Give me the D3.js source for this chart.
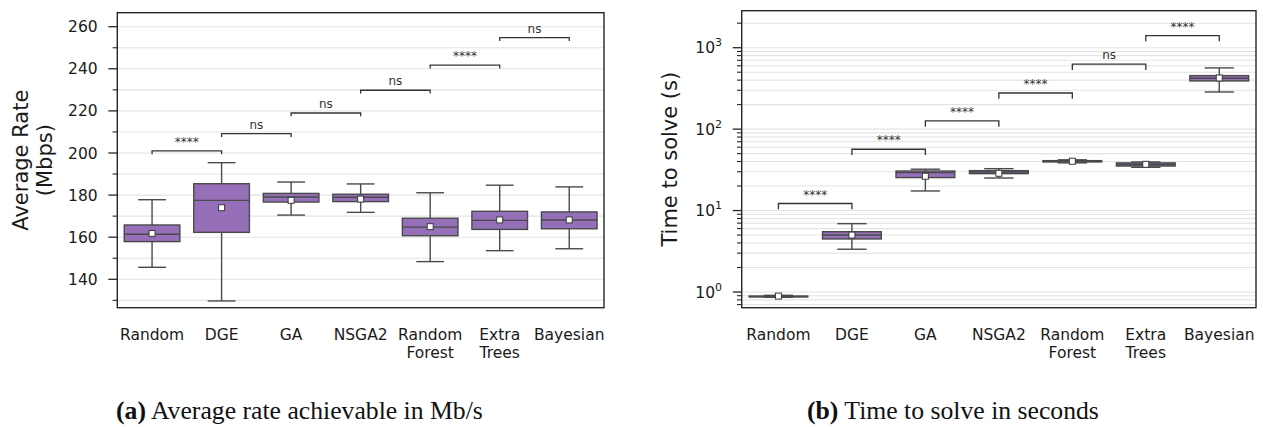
<!DOCTYPE html>
<html>
<head>
<meta charset="utf-8">
<script src="https://cdn.jsdelivr.net/npm/d3@7"></script>
<style>
  html, body { margin: 0; padding: 0; background: #fff; }
  svg { display: block; }
  text { opacity: 0.999; }
</style>
</head>
<body>
<svg id="fig" width="1263" height="427"></svg>
<script>
// ---- data ----------------------------------------------------------------
const categories = ["Random", "DGE", "GA", "NSGA2", "Random\nForest", "Extra\nTrees", "Bayesian"];

// (a) average rate, Mbps — box statistics per method
const rateLow    = [145.7, 129.7, 170.5, 171.8, 148.4, 153.6, 154.5];
const rateQ1     = [157.9, 162.3, 176.7, 176.9, 160.7, 163.7, 164.0];
const rateMedian = [161.4, 177.5, 179.1, 179.0, 164.8, 168.0, 168.2];
const rateQ3     = [165.8, 185.4, 180.8, 180.4, 169.0, 172.3, 172.0];
const rateHigh   = [177.8, 195.4, 186.2, 185.3, 181.1, 184.7, 183.9];
const rateMean   = [161.8, 174.0, 177.5, 178.1, 165.0, 168.2, 168.2];

// significance between neighbouring methods (a)
const rateBracketLevels = [201, 209.2, 219, 229.8, 241.7, 254.8];
const rateBracketLabels = ["****", "ns", "ns", "ns", "****", "ns"];

// (b) time to solve, seconds — box statistics per method
const timeLow    = [0.86, 3.35, 17.4, 25.1, 38.5, 34.0, 286];
const timeQ1     = [0.87, 4.48, 25.4, 28.4, 39.5, 35.2, 391];
const timeMedian = [0.88, 5.0, 29.2, 29.8, 40.2, 36.8, 422];
const timeQ3     = [0.89, 5.5, 30.6, 30.9, 41.0, 38.5, 454];
const timeHigh   = [0.91, 6.9, 32.2, 32.7, 42.0, 39.5, 565];
const timeMean   = [0.89, 5.0, 26.4, 28.7, 40.3, 37.0, 425];

const timeBracketLevels = [12.2, 56.6, 126, 278, 627, 1409];
const timeBracketLabels = ["****", "****", "****", "****", "ns", "****"];

const rateTicks = [140, 160, 180, 200, 220, 240, 260];
const timeTicks = [1, 10, 100, 1000];
const timeTickExponents = ["0", "1", "2", "3"];

// ---- styling ---------------------------------------------------------------
const FILL = "#9570b9";
const EDGE = "#4a4a4a";
const GRID = "#e3e3e3";
const FRAME = "#262626";
const SANS = "'DejaVu Sans', sans-serif";
const SERIF = "'Liberation Serif', 'DejaVu Serif', serif";
const TICK_FS = 15.5;

const svg = d3.select("#fig");

function stats(low, q1, med, q3, high, mean) {
  return categories.map((c, i) => ({
    cat: c, low: low[i], q1: q1[i], med: med[i], q3: q3[i], high: high[i], mean: mean[i]
  }));
}

function drawPanel(opt) {
  const g = svg.append("g");
  const x = d3.scaleBand().domain(categories).range([opt.left, opt.right]).padding(0);
  const y = opt.y;
  const bw = x.bandwidth() * 0.8;
  const capW = bw * 0.5;
  const cx = c => x(c) + x.bandwidth() / 2;

  // grid lines
  g.append("g").selectAll("line").data(opt.gridValues).join("line")
    .attr("x1", opt.left).attr("x2", opt.right)
    .attr("y1", d => y(d)).attr("y2", d => y(d))
    .attr("stroke", GRID).attr("stroke-width", 1.1);

  // boxes
  const data = opt.data;
  const bx = g.append("g").selectAll("g").data(data).join("g");
  bx.append("line")
    .attr("x1", d => cx(d.cat)).attr("x2", d => cx(d.cat))
    .attr("y1", d => y(d.high)).attr("y2", d => y(d.q3))
    .attr("stroke", EDGE).attr("stroke-width", 1.4);
  bx.append("line")
    .attr("x1", d => cx(d.cat)).attr("x2", d => cx(d.cat))
    .attr("y1", d => y(d.q1)).attr("y2", d => y(d.low))
    .attr("stroke", EDGE).attr("stroke-width", 1.4);
  bx.append("line")
    .attr("x1", d => cx(d.cat) - capW / 2).attr("x2", d => cx(d.cat) + capW / 2)
    .attr("y1", d => y(d.high)).attr("y2", d => y(d.high))
    .attr("stroke", EDGE).attr("stroke-width", 1.4);
  bx.append("line")
    .attr("x1", d => cx(d.cat) - capW / 2).attr("x2", d => cx(d.cat) + capW / 2)
    .attr("y1", d => y(d.low)).attr("y2", d => y(d.low))
    .attr("stroke", EDGE).attr("stroke-width", 1.4);
  bx.append("rect")
    .attr("x", d => cx(d.cat) - bw / 2).attr("width", bw)
    .attr("y", d => y(d.q3)).attr("height", d => Math.max(0.01, y(d.q1) - y(d.q3)))
    .attr("fill", FILL).attr("stroke", EDGE).attr("stroke-width", 1.4);
  bx.append("line")
    .attr("x1", d => cx(d.cat) - bw / 2).attr("x2", d => cx(d.cat) + bw / 2)
    .attr("y1", d => y(d.med)).attr("y2", d => y(d.med))
    .attr("stroke", EDGE).attr("stroke-width", 1.4);
  bx.append("rect")
    .attr("x", d => cx(d.cat) - 3).attr("y", d => y(d.mean) - 3)
    .attr("width", 6).attr("height", 6)
    .attr("fill", "#fff").attr("stroke", "#3a3a3a").attr("stroke-width", 1);

  // significance brackets between neighbours
  const br = g.append("g").selectAll("g").data(opt.bracketLevels).join("g");
  br.append("path")
    .attr("d", (d, i) => {
      const xa = cx(categories[i]), xb = cx(categories[i + 1]), yy = y(d);
      return `M${xa},${yy + opt.leg}V${yy}H${xb}V${yy + opt.leg}`;
    })
    .attr("fill", "none").attr("stroke", "#333").attr("stroke-width", 1.3);
  br.append("text")
    .attr("x", (d, i) => (cx(categories[i]) + cx(categories[i + 1])) / 2)
    .attr("y", d => y(d) - 5)
    .attr("text-anchor", "middle")
    .attr("font-family", SANS).attr("font-size", 12).attr("fill", "#333")
    .text((d, i) => opt.bracketLabels[i]);

  // frame
  g.append("rect")
    .attr("x", opt.left).attr("y", opt.top)
    .attr("width", opt.right - opt.left).attr("height", opt.bottom - opt.top)
    .attr("fill", "none").attr("stroke", FRAME).attr("stroke-width", 1.4);

  // y ticks
  g.append("g").selectAll("line").data(opt.minorTicks).join("line")
    .attr("x1", opt.left - 4.7).attr("x2", opt.left)
    .attr("y1", d => y(d)).attr("y2", d => y(d))
    .attr("stroke", FRAME).attr("stroke-width", 1.1);
  g.append("g").selectAll("line").data(opt.majorTicks).join("line")
    .attr("x1", opt.left - 9).attr("x2", opt.left)
    .attr("y1", d => y(d)).attr("y2", d => y(d))
    .attr("stroke", FRAME).attr("stroke-width", 1.3);

  const tl = g.append("g").selectAll("text").data(opt.majorTicks).join("text")
    .attr("x", opt.left - 19.6).attr("y", d => y(d) + 5.6)
    .attr("text-anchor", "end")
    .attr("font-family", SANS).attr("font-size", TICK_FS).attr("fill", "#1a1a1a");
  opt.tickLabel(tl);

  // x tick labels (multi-line)
  const xl = g.append("g").selectAll("text").data(categories).join("text")
    .attr("x", d => cx(d)).attr("y", 340)
    .attr("text-anchor", "middle")
    .attr("font-family", SANS).attr("font-size", TICK_FS).attr("fill", "#1a1a1a");
  xl.each(function (d) {
    const lines = d.split("\n");
    d3.select(this).selectAll("tspan").data(lines).join("tspan")
      .attr("x", cx(d)).attr("dy", (l, i) => i === 0 ? 0 : 18.3)
      .text(l => l);
  });

  // y axis title
  const ty = (opt.top + opt.bottom) / 2;
  const title = g.append("text")
    .attr("transform", `translate(${opt.titleX},${ty}) rotate(-90)`)
    .attr("text-anchor", "middle")
    .attr("font-family", SANS).attr("font-size", 21).attr("fill", "#1a1a1a");
  opt.title.forEach((t, i) => {
    title.append("tspan").attr("x", 0).attr("dy", i === 0 ? 0 : 24).text(t);
  });

  // caption
  const cap = g.append("text")
    .attr("x", opt.capX).attr("y", opt.capY)
    .attr("font-family", SERIF).attr("font-size", 25.7).attr("fill", "#111");
  cap.append("tspan").attr("font-weight", "bold").text(opt.capLabel);
  cap.append("tspan").text(" " + opt.capText);
}

// ---- panel (a): linear rate axis -------------------------------------------
const yRate = d3.scaleLinear().domain([126.5, 266.65]).range([307.7, 12.7]);
const rateMinor = d3.range(130, 261, 10).filter(v => v % 20 !== 0);
drawPanel({
  left: 117.3, right: 604, top: 12.7, bottom: 307.7,
  y: yRate,
  data: stats(rateLow, rateQ1, rateMedian, rateQ3, rateHigh, rateMean),
  gridValues: d3.range(130, 261, 10),
  majorTicks: rateTicks,
  minorTicks: rateMinor,
  tickLabel: sel => sel.text(d => d),
  bracketLevels: rateBracketLevels,
  bracketLabels: rateBracketLabels,
  leg: 3.3,
  title: ["Average Rate", "(Mbps)"],
  titleX: 28,
  capX: 116, capY: 419, capLabel: "(a)", capText: "Average rate achievable in Mb/s"
});

// ---- panel (b): logarithmic time axis --------------------------------------
const yTime = d3.scaleLog().domain([0.641, 2848]).range([307.7, 10.7]);
const timeMinor = [];
[0.1, 1, 10, 100, 1000].forEach(dec => {
  for (let k = 2; k <= 9; k++) {
    const v = dec * k;
    if (v > 0.641 && v < 2848) timeMinor.push(v);
  }
});
drawPanel({
  left: 741.7, right: 1256, top: 10.7, bottom: 307.7,
  y: yTime,
  data: stats(timeLow, timeQ1, timeMedian, timeQ3, timeHigh, timeMean),
  gridValues: timeTicks.concat(timeMinor),
  majorTicks: timeTicks,
  minorTicks: timeMinor,
  tickLabel: sel => sel.each(function (d, i) {
    const t = d3.select(this);
    t.append("tspan").text("10");
    t.append("tspan").attr("font-size", 11).attr("dy", -7).text(timeTickExponents[i]);
  }),
  bracketLevels: timeBracketLevels,
  bracketLabels: timeBracketLabels,
  leg: 5.7,
  title: ["Time to solve (s)"],
  titleX: 677,
  capX: 807, capY: 419, capLabel: "(b)", capText: "Time to solve in seconds"
});
</script>
</body>
</html>
